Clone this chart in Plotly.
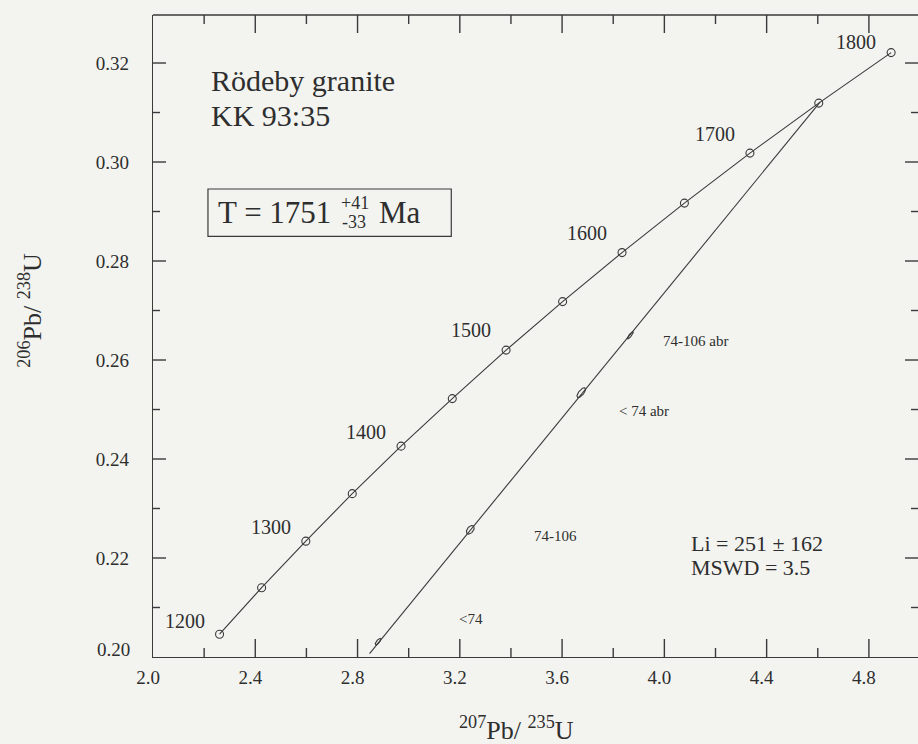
import numpy as np
import plotly.graph_objects as go

# Concordia ages (Ma) and their isotope ratios
conc_age = [1200, 1250, 1300, 1350, 1400, 1450, 1500, 1550, 1600, 1650, 1700, 1750, 1800]
conc_207_235 = [2.2603, 2.4248, 2.5977, 2.7793, 2.9701, 3.1705, 3.3810, 3.6021,
                3.8344, 4.0784, 4.3347, 4.6039, 4.8869]
conc_206_238 = [0.2046, 0.2140, 0.2234, 0.2330, 0.2426, 0.2522, 0.2620, 0.2718,
                0.2817, 0.2917, 0.3018, 0.3119, 0.3221]
conc_labels = [1200, 1300, 1400, 1500, 1600, 1700, 1800]

# Discordia chord: lower end of the drawn segment and upper intercept
disc_207_235 = [2.847, 4.609]
disc_206_238 = [0.2007, 0.3121]

# Zircon fractions: centre, 2-sigma errors and error correlation
frac_names = ["<74", "74-106", "< 74 abr", "74-106 abr"]
frac_207_235 = [2.880, 3.241, 3.675, 3.867]
frac_206_238 = [0.2031, 0.2257, 0.2534, 0.2650]
frac_err_x = [0.0109, 0.0153, 0.0167, 0.0117]
frac_err_y = [0.00065, 0.00087, 0.00099, 0.00072]
frac_rho = [0.75, 0.46, 0.70, 0.86]

# Axis ticks
x_ticks = [2.0, 2.4, 2.8, 3.2, 3.6, 4.0, 4.4, 4.8]
x_text = ["2.0", "2.4", "2.8", "3.2", "3.6", "4.0", "4.4", "4.8"]
x_minor = [2.2, 2.6, 3.0, 3.4, 3.8, 4.2, 4.6]
y_ticks = [0.20, 0.22, 0.24, 0.26, 0.28, 0.30, 0.32]
y_text = ["", "0.22", "0.24", "0.26", "0.28", "0.30", "0.32"]
y_minor = [0.21, 0.23, 0.25, 0.27, 0.29, 0.31]

INK = "#3a3a3a"
TXT = "#2e2e2e"
BG = "#f3f4f0"
SERIF = "Liberation Serif"

W, H = 918, 744
M_L, M_R, M_T, M_B = 153, 0, 15, 87
PLOT_W = W - M_L - M_R
PLOT_H = H - M_T - M_B
X_RANGE = [2.0, 4.992]
Y_RANGE = [0.20, 0.3297]

fig = go.Figure()

# Concordia curve with age markers
fig.add_trace(go.Scatter(
    x=conc_207_235, y=conc_206_238, mode="lines+markers",
    line=dict(color=INK, width=1.1),
    marker=dict(symbol="circle-open", size=8, color=INK, line=dict(width=1.1)),
    hoverinfo="skip", showlegend=False))

# Discordia chord
fig.add_trace(go.Scatter(
    x=disc_207_235, y=disc_206_238, mode="lines",
    line=dict(color=INK, width=1.1), hoverinfo="skip", showlegend=False))

# Error ellipses of the analysed fractions
theta = np.linspace(0, 2 * np.pi, 60)
for cx, cy, sx, sy, r in zip(frac_207_235, frac_206_238, frac_err_x, frac_err_y, frac_rho):
    ex = cx + sx * np.cos(theta)
    ey = cy + sy * (r * np.cos(theta) + np.sqrt(1 - r * r) * np.sin(theta))
    fig.add_trace(go.Scatter(x=ex, y=ey, mode="lines",
                             line=dict(color=INK, width=1.1),
                             hoverinfo="skip", showlegend=False))

ann = []

# Age labels beside concordia markers
label_dy = [13, 14, 14, 20, 20, 19, 11]
for age, dy in zip(conc_labels, label_dy):
    i = conc_age.index(age)
    ann.append(dict(x=conc_207_235[i], y=conc_206_238[i], text=str(age),
                    xshift=-35, yshift=dy, showarrow=False,
                    font=dict(size=20, color=TXT, family=SERIF)))

# Fraction labels
frac_label_x = [3.189, 3.482, 3.815, 3.988]
frac_label_y = [0.2077, 0.2245, 0.2498, 0.2638]
for name, lx, ly in zip(frac_names, frac_label_x, frac_label_y):
    ann.append(dict(x=lx, y=ly, text=name, xanchor="left", yanchor="middle",
                    showarrow=False, font=dict(size=15, color=TXT, family=SERIF)))

# Sample name
ann.append(dict(x=2.2205, y=0.3165, text="Rödeby granite", xanchor="left", yanchor="middle",
                showarrow=False, font=dict(size=30, color=TXT, family=SERIF)))
ann.append(dict(x=2.2205, y=0.3094, text="KK 93:35", xanchor="left", yanchor="middle",
                showarrow=False, font=dict(size=30, color=TXT, family=SERIF)))

# Upper-intercept age
ann.append(dict(x=2.2464, y=0.2898, text="T = 1751", xanchor="left", yanchor="middle",
                showarrow=False, font=dict(size=31, color=TXT, family=SERIF)))
ann.append(dict(x=2.7290, y=0.2917, text="+41", xanchor="left", yanchor="middle",
                showarrow=False, font=dict(size=18, color=TXT, family=SERIF)))
ann.append(dict(x=2.7320, y=0.2878, text="-33", xanchor="left", yanchor="middle",
                showarrow=False, font=dict(size=18, color=TXT, family=SERIF)))
ann.append(dict(x=2.8760, y=0.2898, text="Ma", xanchor="left", yanchor="middle",
                showarrow=False, font=dict(size=31, color=TXT, family=SERIF)))

# Lower intercept and MSWD
ann.append(dict(x=4.0974, y=0.2230, text="Li = 251 ± 162", xanchor="left", yanchor="middle",
                showarrow=False, font=dict(size=22, color=TXT, family=SERIF)))
ann.append(dict(x=4.0974, y=0.2180, text="MSWD = 3.5", xanchor="left", yanchor="middle",
                showarrow=False, font=dict(size=22, color=TXT, family=SERIF)))

# Lowest y tick label sits slightly above the axis
ann.append(dict(xref="paper", x=0, y=0.2, text="0.20", xanchor="right", yanchor="middle",
                xshift=-21, yshift=8, showarrow=False,
                font=dict(size=19, color=TXT, family=SERIF)))

# Axis titles
ann.append(dict(xref="paper", yref="paper", x=0.4758, y=-0.1405,
                text="<sup>207</sup>Pb/ <sup>235</sup>U", showarrow=False,
                font=dict(size=26, color=TXT, family=SERIF)))
ann.append(dict(xref="paper", yref="paper", x=-0.184, y=0.5405, textangle=-90,
                text="<sup>206</sup>Pb/ <sup>238</sup>U", showarrow=False,
                font=dict(size=26, color=TXT, family=SERIF)))

tick_line = dict(color=INK, width=1.4)
shapes = [
    # frame box around the age
    dict(type="rect", x0=2.215, x1=3.1666, y0=0.28497, y1=0.29455,
         line=dict(color=INK, width=1.2)),
    # top frame line
    dict(type="line", xref="paper", yref="paper", x0=0, x1=1, y0=1, y1=1,
         line=dict(color=INK, width=1.3)),
]

# Inward ticks on the bottom and top edges (length in pixels -> paper fraction)
for vals, length in ((x_ticks[1:], 18), (x_minor, 9)):
    f = length / PLOT_H
    for v in vals:
        shapes.append(dict(type="line", xref="x", yref="paper", x0=v, x1=v,
                           y0=0, y1=f, line=tick_line))
        shapes.append(dict(type="line", xref="x", yref="paper", x0=v, x1=v,
                           y0=1, y1=1 - f, line=tick_line))

# Inward ticks on the left and right edges
for vals, length in ((y_ticks[1:], 13), (y_minor, 7)):
    f = length / PLOT_W
    for v in vals:
        shapes.append(dict(type="line", xref="paper", yref="y", x0=0, x1=f,
                           y0=v, y1=v, line=tick_line))
        shapes.append(dict(type="line", xref="paper", yref="y", x0=1, x1=1 - f,
                           y0=v, y1=v, line=tick_line))

fig.update_layout(
    width=W, height=H,
    margin=dict(l=M_L, r=M_R, t=M_T, b=M_B),
    paper_bgcolor=BG, plot_bgcolor=BG,
    annotations=ann, shapes=shapes,
    xaxis=dict(range=X_RANGE, tickvals=x_ticks, ticktext=x_text, ticks="",
               showline=True, linecolor=INK, linewidth=1.3,
               showgrid=False, zeroline=False, ticklabelstandoff=3, ticklabelshift=-5,
               tickfont=dict(size=19, color=TXT, family=SERIF)),
    yaxis=dict(range=Y_RANGE, tickvals=y_ticks, ticktext=y_text, ticks="",
               showline=True, linecolor=INK, linewidth=1.3,
               showgrid=False, zeroline=False, ticklabelstandoff=19,
               tickfont=dict(size=19, color=TXT, family=SERIF)),
)

fig.write_html("out.html")
